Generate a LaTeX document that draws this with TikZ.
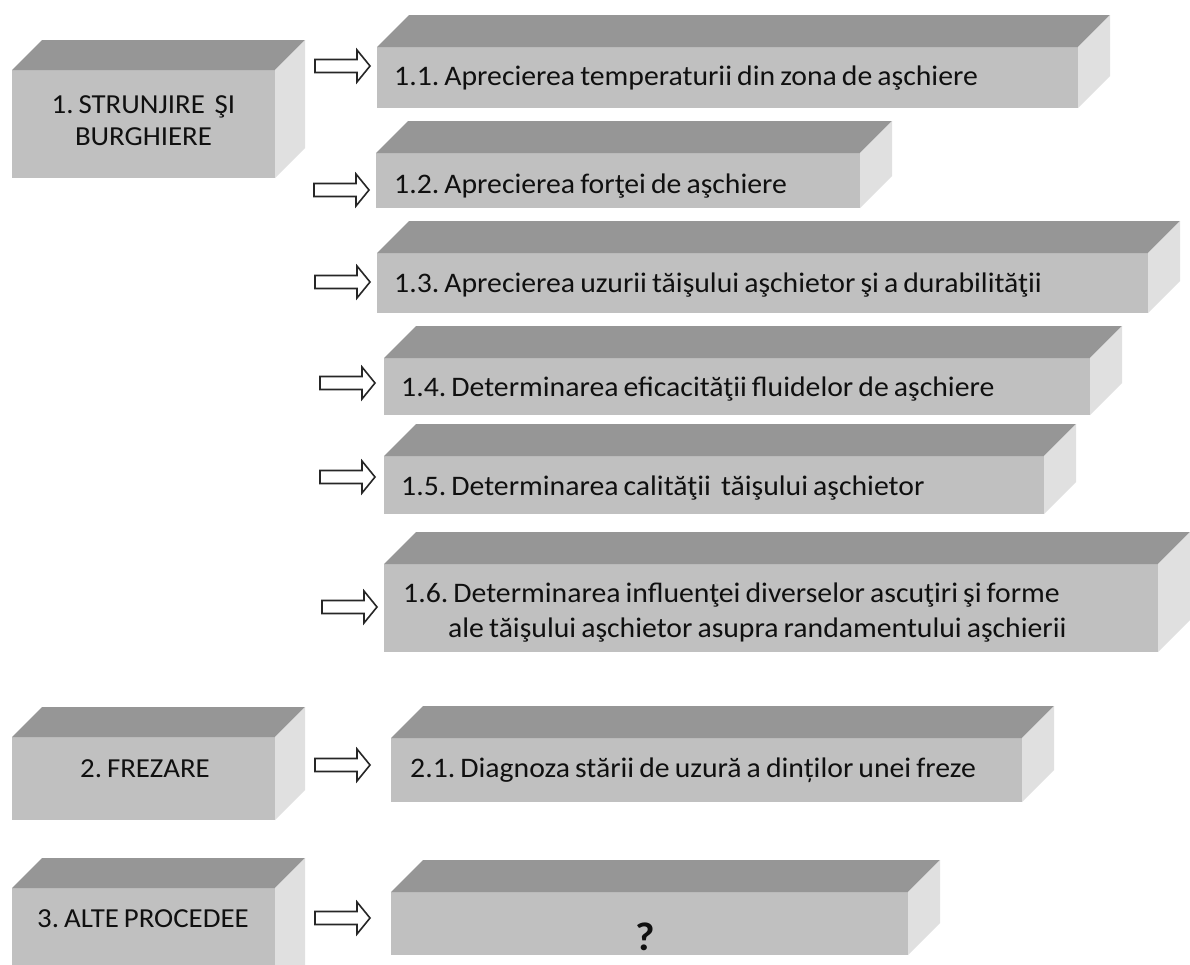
\documentclass[tikz,border=0pt]{standalone}
\usepackage{fontspec}
\setmainfont{Carlito}[FakeStretch=1.05]
\definecolor{topc}{HTML}{969696}
\definecolor{frontc}{HTML}{C0C0C0}
\definecolor{sidec}{HTML}{E0E0E0}
\definecolor{txtc}{HTML}{101010}
\newcommand\tightspaces{\frenchspacing\spaceskip=0.18em plus 0.05em\relax}
\tikzset{
  cubefront/.style={fill=frontc, inner sep=0pt, outer sep=0pt, anchor=north west},
  lbl/.style={font=\fontsize{28.3}{35}\selectfont\tightspaces, text=txtc, inner sep=0pt, anchor=base west},
  ctrlbl/.style={font=\fontsize{27.5}{32}\selectfont\tightspaces, text=txtc, inner sep=0pt, align=center, anchor=base},
  barrow/.pic={\draw[line width=1.6pt, fill=white, draw=black!85, line join=miter]
     (0,-6.5) -- (42,-6.5) -- (42,-16) -- (55,0) -- (42,16) -- (42,6.5) -- (0,6.5) -- cycle;}
}
% #1 name, #2 x1, #3 y1, #4 x2, #5 y2, #6 depth
\newcommand\cuboid[6]{%
  \node[cubefront, minimum width={#4-#2}, minimum height={#5-#3}] (#1) at (#2,#3) {};
  \fill[topc] (#1.north west) -- ++(#6,-#6) -- ([xshift=#6pt,yshift=#6pt]#1.north east) -- (#1.north east) -- cycle;
  \fill[sidec] (#1.north east) -- ++(#6,-#6) -- ([xshift=#6pt,yshift=#6pt]#1.south east) -- (#1.south east) -- cycle;
}
\begin{document}
\begin{tikzpicture}[x=1pt,y=-1pt]
\useasboundingbox (0,0) rectangle (1190,964);
\clip (0,0) rectangle (1190,964);
\fill[white] (0,0) rectangle (1190,964);

% left boxes
\cuboid{b1}{12}{70}{275}{178}{30}
\cuboid{b2}{12}{737}{275}{820}{30}
\cuboid{b3}{12}{888}{275}{1000}{30}

% right boxes
\cuboid{b11}{377}{47}{1078}{108}{32}
\cuboid{b12}{376}{153}{860}{208}{32}
\cuboid{b13}{377}{253}{1148}{313}{32}
\cuboid{b14}{384}{358}{1090}{415}{32}
\cuboid{b15}{384}{456}{1044}{514}{32}
\cuboid{b16}{384}{564}{1158}{652}{32}
\cuboid{b21}{391}{738}{1022}{802}{32}
\cuboid{b31}{391}{892}{908}{955}{32}

% arrows
\pic (a11) at (315,66) {barrow};
\pic (a12) at (314,190) {barrow};
\pic (a13) at (315,282) {barrow};
\pic (a14) at (320,383) {barrow};
\pic (a15) at (320,477) {barrow};
\pic (a16) at (322,607) {barrow};
\pic (a21) at (315,765) {barrow};
\pic (a31) at (315,918) {barrow};

% left texts (base = last line)
\node[ctrlbl] (t1) at (143.5,145) {1. STRUNJIRE\ \ ŞI\\BURGHIERE};
\node[ctrlbl] (t2) at (145,777) {2. FREZARE};
\node[ctrlbl] (t3) at (143,927) {3. ALTE PROCEDEE};

% right texts
\node[lbl] (t11) at (394,85) {1.1. Aprecierea temperaturii din zona de aşchiere};
\node[lbl] (t12) at (394,193) {1.2. Aprecierea forţei de aşchiere};
\node[lbl] (t13) at (394,292) {1.3. Aprecierea uzurii tăişului aşchietor şi a durabilităţii};
\node[lbl] (t14) at (401,396) {1.4. Determinarea eficacităţii fluidelor de aşchiere};
\node[lbl] (t15) at (401,495) {1.5. Determinarea calităţii\ \ tăişului aşchietor};
\node[lbl, align=left] (t16) at (403,637) {1.6. Determinarea influenţei diverselor ascuţiri şi forme\\\hspace*{45pt}ale tăişului aşchietor asupra randamentului aşchierii};
\node[lbl] (t21) at (410,777) {2.1. Diagnoza stării de uzură a dinților unei freze};
\node[ctrlbl, font=\fontsize{40}{42}\selectfont\bfseries] (t31) at (645,950) {?};
\end{tikzpicture}
\end{document}
